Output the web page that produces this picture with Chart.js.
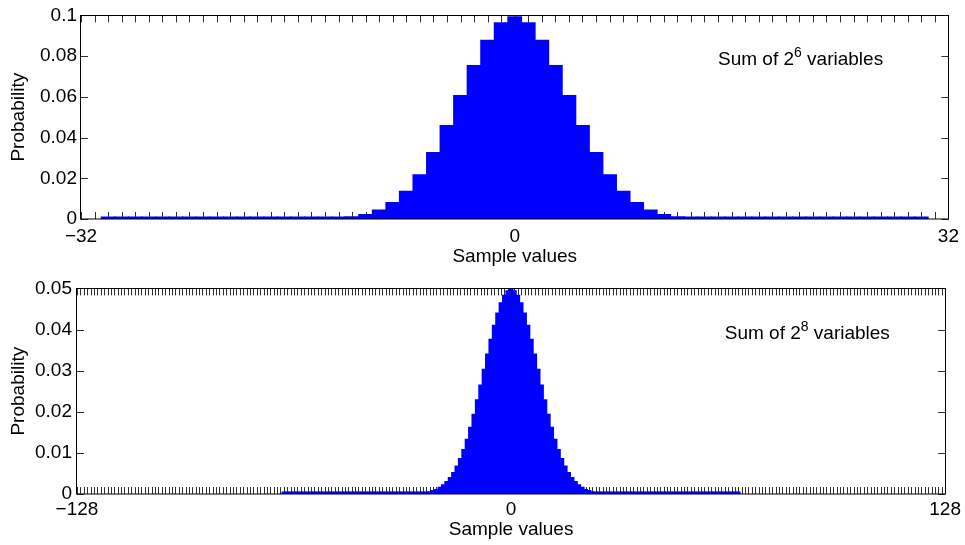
<!DOCTYPE html>
<html>
<head>
<meta charset="utf-8">
<script src="https://cdn.jsdelivr.net/npm/chart.js@4.4.1/dist/chart.umd.min.js"></script>
<style>
  html, body { margin: 0; padding: 0; background: #ffffff; }
  #wrap { position: relative; width: 965px; height: 545px; overflow: hidden; }
  canvas { position: absolute; left: 0; }
  #sum64 { top: 0; }
  #sum256 { top: 272px; }
</style>
</head>
<body>
<div id="wrap">
  <canvas id="sum64" width="965" height="272"></canvas>
  <canvas id="sum256" width="965" height="273"></canvas>
</div>
<script>
// Sum of 64 (+/-1/2) variables: sample value and probability of each value
const sums64 = [
  -30, -29, -28, -27, -26, -25, -24, -23, -22, -21, -20, -19, -18, -17, -16,
  -15, -14, -13, -12, -11, -10, -9, -8, -7, -6, -5, -4, -3, -2, -1,
  0,
  1, 2, 3, 4, 5, 6, 7, 8, 9, 10, 11, 12, 13, 14, 15,
  16, 17, 18, 19, 20, 21, 22, 23, 24, 25, 26, 27, 28, 29, 30
];
const prob64 = [
  0, 0, 0, 0, 0, 0, 0, 0, 0, 0, 0, 0, 0, 0, 0,
  0.0001, 0.0002, 0.0005, 0.0011, 0.0022, 0.0044, 0.0080, 0.0136, 0.0217, 0.0326, 0.0459, 0.0606, 0.0753, 0.0878, 0.0963,
  0.0993,
  0.0963, 0.0878, 0.0753, 0.0606, 0.0459, 0.0326, 0.0217, 0.0136, 0.0080, 0.0044, 0.0022, 0.0011, 0.0005, 0.0002, 0.0001,
  0, 0, 0, 0, 0, 0, 0, 0, 0, 0, 0, 0, 0, 0, 0
];

// Sum of 256 (+/-1/2) variables
const sums256 = [
  -67, -66, -65, -64, -63, -62, -61, -60, -59, -58, -57, -56, -55, -54, -53, -52, -51, -50, -49, -48,
  -47, -46, -45, -44, -43, -42, -41, -40, -39, -38, -37, -36, -35, -34, -33, -32, -31,
  -30, -29, -28, -27, -26, -25, -24, -23, -22, -21, -20, -19, -18, -17, -16,
  -15, -14, -13, -12, -11, -10, -9, -8, -7, -6, -5, -4, -3, -2, -1,
  0,
  1, 2, 3, 4, 5, 6, 7, 8, 9, 10, 11, 12, 13, 14, 15,
  16, 17, 18, 19, 20, 21, 22, 23, 24, 25, 26, 27, 28, 29, 30,
  31, 32, 33, 34, 35, 36, 37, 38, 39, 40, 41, 42, 43, 44, 45, 46, 47,
  48, 49, 50, 51, 52, 53, 54, 55, 56, 57, 58, 59, 60, 61, 62, 63, 64, 65, 66, 67
];
const prob256 = [
  0, 0, 0, 0, 0, 0, 0, 0, 0, 0, 0, 0, 0, 0, 0, 0, 0, 0, 0, 0,
  0, 0, 0, 0, 0, 0, 0, 0, 0, 0, 0, 0, 0, 0, 0, 0, 0,
  0.00004, 0.0001, 0.0001, 0.0002, 0.0002, 0.0004, 0.0005, 0.0008, 0.0011, 0.0016, 0.0022, 0.0030, 0.0040, 0.0052, 0.0068,
  0.0086, 0.0108, 0.0133, 0.0162, 0.0194, 0.0229, 0.0265, 0.0303, 0.0340, 0.0376, 0.0410, 0.0440, 0.0465, 0.0483, 0.0494,
  0.0498,
  0.0494, 0.0483, 0.0465, 0.0440, 0.0410, 0.0376, 0.0340, 0.0303, 0.0265, 0.0229, 0.0194, 0.0162, 0.0133, 0.0108, 0.0086,
  0.0068, 0.0052, 0.0040, 0.0030, 0.0022, 0.0016, 0.0011, 0.0008, 0.0005, 0.0004, 0.0002, 0.0002, 0.0001, 0.0001, 0.00004,
  0, 0, 0, 0, 0, 0, 0, 0, 0, 0, 0, 0, 0, 0, 0, 0, 0,
  0, 0, 0, 0, 0, 0, 0, 0, 0, 0, 0, 0, 0, 0, 0, 0, 0, 0, 0, 0
];

// Axis ranges and labelled ticks
const xLabels64 = [-32, 0, 32];
const xLabels256 = [-128, 0, 128];
const yTicks64 = [0, 0.02, 0.04, 0.06, 0.08, 0.1];
const yTicks256 = [0, 0.01, 0.02, 0.03, 0.04, 0.05];

const FONT = "'Liberation Sans', Arial, Helvetica, sans-serif";
const FONT_SIZE = 19;
const TICK_LEN = 7;

function fmtNum(v) {
  return v < 0 ? '\u2212' + (-v) : String(v);
}

// Inward tick marks on all four sides, the axes box and the in-plot caption
const framePlugin = {
  id: 'frame',
  beforeDatasetsDraw(chart) {
    const { ctx, chartArea: a, scales: { x, y } } = chart;
    ctx.save();
    ctx.strokeStyle = '#303030';
    ctx.lineWidth = 1;
    ctx.beginPath();
    x.ticks.forEach(t => {
      const px = Math.round(x.getPixelForValue(t.value)) + 0.5;
      ctx.moveTo(px, a.top);
      ctx.lineTo(px, a.top + TICK_LEN);
      ctx.moveTo(px, a.bottom);
      ctx.lineTo(px, a.bottom - TICK_LEN);
    });
    y.ticks.forEach(t => {
      const py = Math.round(y.getPixelForValue(t.value)) + 0.5;
      ctx.moveTo(a.left, py);
      ctx.lineTo(a.left + TICK_LEN, py);
      ctx.moveTo(a.right, py);
      ctx.lineTo(a.right - TICK_LEN, py);
    });
    ctx.stroke();
    ctx.restore();
  },
  afterDatasetsDraw(chart, args, opts) {
    const { ctx, chartArea: a, scales: { x, y } } = chart;
    ctx.save();
    ctx.strokeStyle = '#000000';
    ctx.lineWidth = 1;
    ctx.strokeRect(Math.round(a.left) - 0.5, Math.round(a.top) + 0.5,
                   Math.round(a.right - a.left) + 1, Math.round(a.bottom - a.top) - 0.5);
    const note = opts.note;
    if (note) {
      const px = x.getPixelForValue(note.x);
      const base = y.getPixelForValue(note.y) + 9;
      ctx.fillStyle = '#000000';
      ctx.textBaseline = 'alphabetic';
      ctx.textAlign = 'left';
      ctx.font = FONT_SIZE + 'px ' + FONT;
      ctx.fillText(note.text, px, base);
      let w = ctx.measureText(note.text).width;
      ctx.font = '14px ' + FONT;
      ctx.fillText(note.sup, px + w, base - 8);
      w += ctx.measureText(note.sup).width;
      ctx.font = FONT_SIZE + 'px ' + FONT;
      ctx.fillText(note.rest, px + w, base);
    }
    ctx.restore();
  }
};

function makeChart(id, sums, probs, xMax, xLabels, yTicks, layout, note) {
  const yMax = yTicks[yTicks.length - 1];
  const yStep = yTicks[1] - yTicks[0];
  const font = { family: FONT, size: FONT_SIZE };
  return new Chart(document.getElementById(id), {
    type: 'bar',
    data: {
      datasets: [{
        data: sums.map((s, i) => ({ x: s, y: probs[i] })),
        backgroundColor: '#0000ff',
        borderWidth: 0,
        barPercentage: 1,
        categoryPercentage: 1,
        inflateAmount: 0.6,
        minBarLength: 2
      }]
    },
    options: {
      responsive: false,
      animation: false,
      events: [],
      layout: { padding: { top: layout.top, right: layout.right, left: 0, bottom: 0 } },
      plugins: {
        legend: { display: false },
        tooltip: { enabled: false },
        frame: { note }
      },
      scales: {
        x: {
          type: 'linear',
          min: -xMax,
          max: xMax,
          offset: false,
          grid: { display: false, drawTicks: false },
          border: { display: false },
          ticks: {
            stepSize: 1,
            autoSkip: false,
            maxRotation: 0,
            padding: layout.xPad,
            color: '#000000',
            font,
            callback: v => xLabels.includes(v) ? fmtNum(v) : ''
          },
          title: {
            display: true,
            text: 'Sample values',
            color: '#000000',
            font,
            padding: { top: 0, bottom: 4 }
          },
          afterFit: s => { s.height = layout.xHeight; }
        },
        y: {
          min: 0,
          max: yMax,
          grid: { display: false, drawTicks: false },
          border: { display: false },
          ticks: {
            stepSize: yStep,
            padding: layout.yPad,
            color: '#000000',
            font,
            callback: v => String(+v.toFixed(3))
          },
          title: {
            display: true,
            text: 'Probability',
            color: '#000000',
            font,
            padding: { top: 7, bottom: 0 }
          },
          afterFit: s => { s.width = layout.yWidth; }
        }
      }
    },
    plugins: [framePlugin]
  });
}

makeChart('sum64', sums64, prob64, 32, xLabels64, yTicks64,
  { top: 13, right: 15, yWidth: 81, xHeight: 53, xPad: 6, yPad: 4 },
  { x: 15, y: 0.08, text: 'Sum of 2', sup: '6', rest: ' variables' });

makeChart('sum256', sums256, prob256, 128, xLabels256, yTicks256,
  { top: 16, right: 19, yWidth: 77, xHeight: 51, xPad: 4, yPad: 5 },
  { x: 63, y: 0.04, text: 'Sum of 2', sup: '8', rest: ' variables' });
</script>
</body>
</html>
